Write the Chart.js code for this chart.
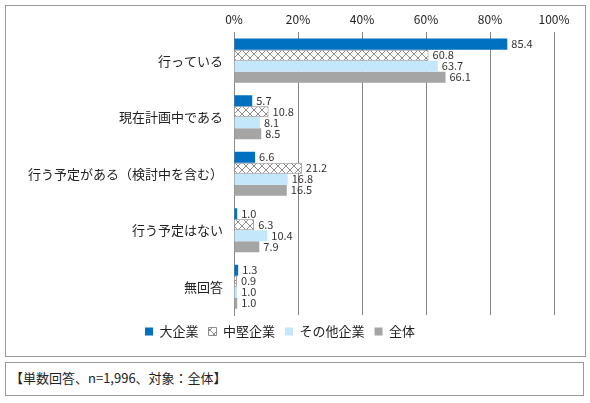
<!DOCTYPE html>
<html>
<head>
<meta charset="utf-8">
<script src="https://cdn.jsdelivr.net/npm/chart.js@4"></script>
<style>
  body { margin: 0; background: #fff; font-family: "Noto Sans CJK JP", sans-serif; }
  #box { position: absolute; left: 5px; top: 5px; width: 579px; height: 350px; border: 1px solid #9a9a9a; }
  #note { position: absolute; left: 5px; top: 362px; width: 579px; height: 34px; border: 1px solid #9a9a9a;
          font-size: 13px; color: #222; line-height: 30px; padding-left: 4px; box-sizing: border-box; }
  #wrap { position: absolute; left: 6px; top: 6px; width: 578px; height: 348px; }
</style>
</head>
<body>
<div id="box"></div>
<div id="wrap"><canvas id="chart"></canvas></div>
<div id="note">【単数回答、n=1,996、対象：全体】</div>
<script>
// categories and series
const categories = ["行っている", "現在計画中である", "行う予定がある（検討中を含む）", "行う予定はない", "無回答"];
const seriesNames = ["大企業", "中堅企業", "その他企業", "全体"];
const largeCo = [85.4, 5.7, 6.6, 1.0, 1.3];
const midCo = [60.8, 10.8, 21.2, 6.3, 0.9];
const otherCo = [63.7, 8.1, 16.8, 10.4, 1.0];
const total = [66.1, 8.5, 16.5, 7.9, 1.0];

// crosshatch fill for 中堅企業
function hatch() {
    const c = document.createElement("canvas");
    c.width = 8; c.height = 8;
    const g = c.getContext("2d");
    g.fillStyle = "#fff"; g.fillRect(0, 0, 8, 8);
    g.strokeStyle = "#8c8c8c"; g.lineWidth = 1;
    g.beginPath();
    g.moveTo(0, 0); g.lineTo(8, 8);
    g.moveTo(8, 0); g.lineTo(0, 8);
    g.stroke();
    return g.createPattern(c, "repeat");
}
const pat = hatch();

const valueLabels = {
    id: "valueLabels",
    afterDatasetsDraw(chart) {
        const ctx = chart.ctx;
        ctx.save();
        ctx.font = "11px 'Noto Sans CJK JP'";
        ctx.fillStyle = "#333";
        ctx.textBaseline = "middle";
        chart.data.datasets.forEach((ds, i) => {
            chart.getDatasetMeta(i).data.forEach((bar, j) => {
                ctx.fillText(ds.data[j].toFixed(1), bar.x + 4, bar.y);
            });
        });
        ctx.restore();
    }
};

new Chart(document.getElementById("chart"), {
    type: "bar",
    data: {
        labels: categories,
        datasets: [
            { label: seriesNames[0], data: largeCo, backgroundColor: "#0070c0" },
            { label: seriesNames[1], data: midCo, backgroundColor: pat, borderColor: "#8c8c8c", borderWidth: 1 },
            { label: seriesNames[2], data: otherCo, backgroundColor: "#c5e7fb" },
            { label: seriesNames[3], data: total, backgroundColor: "#a5a5a5" }
        ]
    },
    options: {
        indexAxis: "y",
        responsive: true,
        maintainAspectRatio: false,
        animation: false,
        layout: { padding: { top: 0, right: 30, bottom: 6 } },
        datasets: { bar: { categoryPercentage: 0.78, barPercentage: 1.0 } },
        scales: {
            x: {
                position: "top",
                min: 0, max: 100,
                ticks: { stepSize: 10, minRotation: 0, maxRotation: 0, padding: 6, callback: v => v + "%", color: "#222", font: { size: 12, family: "Noto Sans CJK JP" } },
                grid: { color: "#888", drawTicks: false },
                border: { display: false }
            },
            y: {
                afterFit(s) { s.width = 228; },
                ticks: { color: "#222", font: { size: 13, family: "Noto Sans CJK JP" } },
                grid: { display: false },
                border: { color: "#888" }
            }
        },
        plugins: {
            legend: {
                position: "bottom",
                labels: { boxWidth: 8, boxHeight: 8, color: "#222", font: { size: 13, family: "Noto Sans CJK JP" } }
            },
            tooltip: { enabled: false }
        }
    },
    plugins: [valueLabels]
});
</script>
</body>
</html>
